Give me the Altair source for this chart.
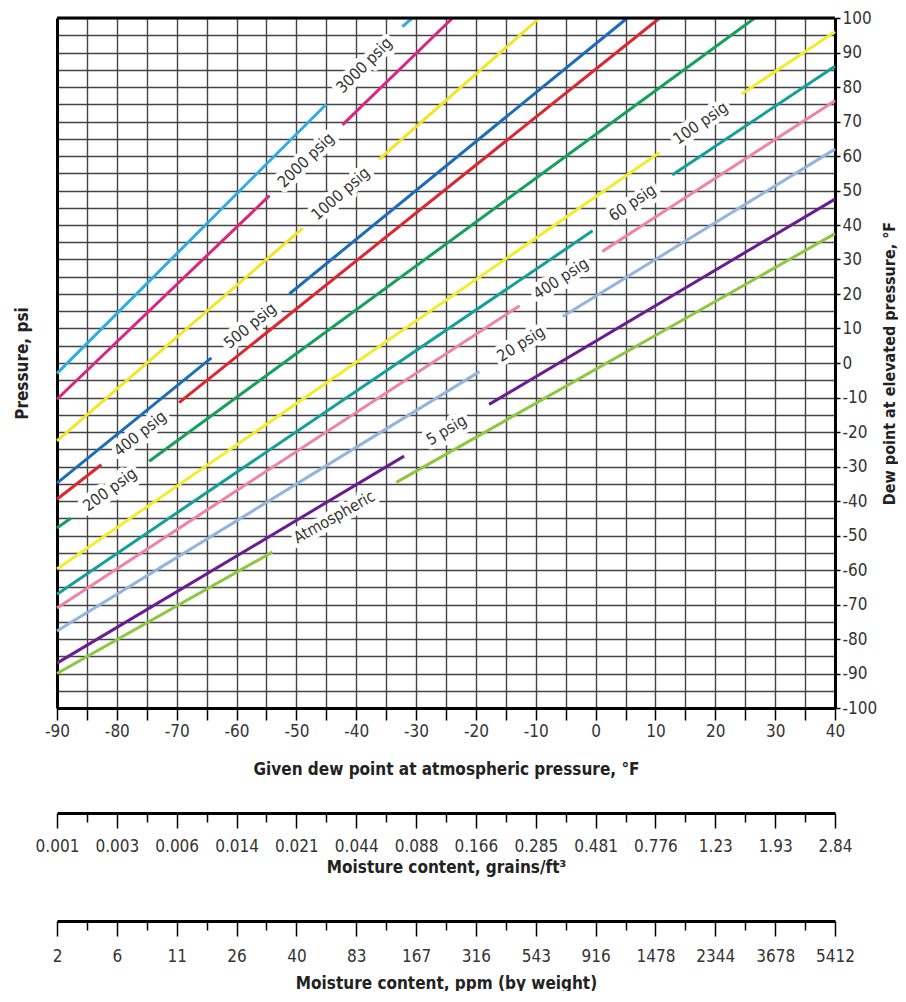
import json
import math
import altair as alt
import pandas as pd

# ---------------- data ----------------
line_ids = ["p3000", "p2000", "p1000", "p500", "p400", "p200",
            "p100", "p60", "p40", "p20", "p5", "atm"]
line_labels = ["3000 psig", "2000 psig", "1000 psig", "500 psig", "400 psig",
               "200 psig", "100 psig", "60 psig", "400 psig", "20 psig",
               "5 psig", "Atmospheric"]
line_colors = ["#2eaee0", "#d9267e", "#f2e526", "#1c6db8", "#de2630", "#17a05c",
               "#f3ec2c", "#14a09a", "#ee82a8", "#93b4dd", "#6a1d8e", "#8dc63f"]

start_x = [-90, -90, -90, -90, -90, -90, -90, -90, -90, -90, -90, -90]
start_y = [-3.0, -10.5, -22.6, -34.8, -39.5, -47.8, -59.7, -67.0, -71.0, -77.7, -87.0, -90.0]
gap0_x = [-45.0, -54.5, -49.0, -64.2, -82.6, -87.7, 10.7, -0.5, -12.7, -19.4, -32.0, -54.0]
gap0_y = [75.0, 48.5, 39.0, 1.5, -29.5, -45.0, 61.0, 38.3, 16.6, -2.5, -27.0, -54.8]
gap1_x = [-32.3, -42.3, -36.2, -51.2, -69.6, -74.6, 24.4, 12.8, 1.1, -5.5, -17.8, -33.3]
gap1_y = [97.5, 69.0, 59.0, 20.0, -11.5, -28.5, 78.0, 54.5, 32.3, 13.5, -12.0, -34.6]
end_x = [-30.6, -23.9, -9.4, 5.3, 10.7, 26.6, 40, 40, 40, 40, 40, 40]
end_y = [100, 100, 100, 100, 100, 100, 96.0, 86.0, 76.0, 62.0, 47.5, 37.5]

scale_positions = [-90, -80, -70, -60, -50, -40, -30, -20, -10, 0, 10, 20, 30, 40]
grains_labels = ["0.001", "0.003", "0.006", "0.014", "0.021", "0.044", "0.088",
                 "0.166", "0.285", "0.481", "0.776", "1.23", "1.93", "2.84"]
ppm_labels = ["2", "6", "11", "26", "40", "83", "167", "316", "543", "916",
              "1478", "2344", "3678", "5412"]

# ---------------- layout constants ----------------
W, H = 778, 690
X_DOM = [-90, 40]
Y_DOM = [-100, 100]
FONT = "Liberation Sans Narrow, Arial Narrow, DejaVu Sans Condensed, sans-serif"

px_per_x = W / (X_DOM[1] - X_DOM[0])
px_per_y = H / (Y_DOM[1] - Y_DOM[0])

seg_rows = []
lab_rows = []
for i, lid in enumerate(line_ids):
    seg_rows += [
        {"id": lid, "seg": lid + "a", "x": start_x[i], "y": start_y[i], "o": 0},
        {"id": lid, "seg": lid + "a", "x": gap0_x[i], "y": gap0_y[i], "o": 1},
        {"id": lid, "seg": lid + "b", "x": gap1_x[i], "y": gap1_y[i], "o": 0},
        {"id": lid, "seg": lid + "b", "x": end_x[i], "y": end_y[i], "o": 1},
    ]
    ang = math.degrees(math.atan2((end_y[i] - start_y[i]) * px_per_y,
                                  (end_x[i] - start_x[i]) * px_per_x))
    lab_rows.append({
        "label": line_labels[i],
        "x": (gap0_x[i] + gap1_x[i]) / 2,
        "y": (gap0_y[i] + gap1_y[i]) / 2,
        "angle": 360 - ang,
    })

seg_df = pd.DataFrame(seg_rows)
lab_df = pd.DataFrame(lab_rows)

xs = alt.Scale(domain=X_DOM, nice=False, zero=False)
ys = alt.Scale(domain=Y_DOM, nice=False, zero=False)

x_axis = alt.Axis(
    values=list(range(-90, 45, 5)),
    labelExpr="datum.value % 10 === 0 ? '' + datum.value : ''",
    labelOverlap=False, labelFlush=False,
    tickSize=12, tickWidth=1.5, tickColor="black",
    domainColor="black", domainWidth=3,
    grid=True, gridColor="#444", gridWidth=1.4,
    labelFont=FONT, labelFontSize=17, labelColor="#333", labelPadding=3,
    title="Given dew point at atmospheric pressure, °F",
    titleFont=FONT, titleFontSize=17, titleFontWeight="bold", titleColor="#222",
    titlePadding=22,
)

y_axis_right = alt.Axis(
    orient="right",
    values=list(range(-100, 105, 5)),
    labelExpr="datum.value % 10 === 0 ? '' + datum.value : ''",
    labelOverlap=False, labelFlush=False,
    tickSize={"condition": {"test": "datum.value % 10 === 0", "value": 5}, "value": 0},
    tickWidth=1.5, tickColor="black",
    domainColor="black", domainWidth=3,
    grid=True, gridColor="#444", gridWidth=1.4,
    labelFont=FONT, labelFontSize=17, labelColor="#333", labelPadding=2,
    title="Dew point at elevated pressure, °F",
    titleFont=FONT, titleFontSize=16, titleFontWeight="bold", titleColor="#222",
    titleAngle=270, titlePadding=21,
)

y_axis_left = alt.Axis(
    orient="left", labels=False, ticks=False, grid=False,
    domainColor="black", domainWidth=3,
    title="Pressure, psi",
    titleFont=FONT, titleFontSize=17, titleFontWeight="bold", titleColor="#222",
    titlePadding=26,
)

lines = alt.Chart(seg_df).mark_line(strokeWidth=3).encode(
    x=alt.X("x:Q", scale=xs, axis=x_axis),
    y=alt.Y("y:Q", scale=ys, axis=y_axis_right),
    color=alt.Color("id:N", scale=alt.Scale(domain=line_ids, range=line_colors), legend=None),
    detail="seg:N",
    order="o:Q",
)

halo = alt.Chart(lab_df).mark_text(
    font=FONT, fontSize=16, stroke="white", strokeWidth=9, strokeJoin="round", fill="white"
).encode(
    x=alt.X("x:Q", scale=xs, axis=x_axis),
    y=alt.Y("y:Q", scale=ys, axis=None),
    angle=alt.Angle("angle:Q", scale=None),
    text="label:N",
)

texts = alt.Chart(lab_df).mark_text(font=FONT, fontSize=16, color="#333").encode(
    x=alt.X("x:Q", scale=xs, axis=x_axis),
    y=alt.Y("y:Q", scale=ys, axis=y_axis_left),
    angle=alt.Angle("angle:Q", scale=None),
    text="label:N",
)

top_rule = alt.Chart(alt.Data(values=[{"a": 1}])).mark_rule(color="black", strokeWidth=3).encode(
    x=alt.value(0), x2=alt.value(W), y=alt.value(0)
)

main = alt.layer(lines, halo, texts, top_rule).resolve_axis(y="independent").properties(
    width=W, height=H
)


def scale_chart(labels, title, h, label_pad, title_pad):
    df = pd.DataFrame({"x": scale_positions, "lab": labels})
    expr = ("datum.value % 10 === 0 ? " + json.dumps(labels)
            + "[(datum.value + 90) / 10] : ''")
    axis = alt.Axis(
        values=list(range(-90, 45, 5)),
        labelExpr=expr, labelOverlap=False, labelFlush=False,
        tickSize={"condition": {"test": "datum.value % 10 === 0", "value": 15}, "value": 9},
        tickWidth=1.5, tickColor="black",
        domainColor="black", domainWidth=3, grid=False,
        labelFont=FONT, labelFontSize=17, labelColor="#333", labelPadding=label_pad,
        title=title, titleFont=FONT, titleFontSize=17, titleFontWeight="bold",
        titleColor="#222", titlePadding=title_pad,
    )
    return alt.Chart(df).mark_point(opacity=0).encode(
        x=alt.X("x:Q", scale=alt.Scale(domain=X_DOM, nice=False, zero=False), axis=axis)
    ).properties(width=W, height=h)


s1 = scale_chart(grains_labels, "Moisture content, grains/ft³", 16, 10, 5)
s2 = scale_chart(ppm_labels, "Moisture content, ppm (by weight)", 26, 12, 11)

chart = alt.vconcat(main, s1, s2, spacing=20).properties(
    padding={"left": 5, "top": 1, "right": 0, "bottom": 0}
).configure_view(stroke=None)

chart.save("out.html", embed_options={"renderer": "svg", "actions": False})
